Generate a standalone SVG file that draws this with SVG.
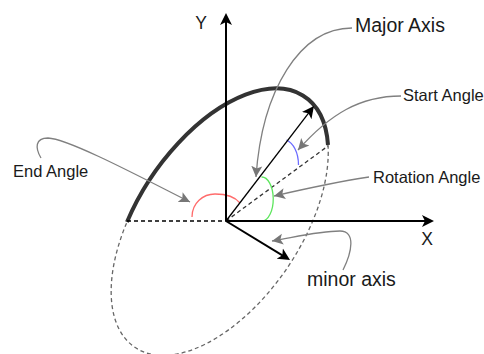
<svg xmlns="http://www.w3.org/2000/svg" width="484" height="354" viewBox="0 0 484 354">
<style>
.lbl{font-family:"Liberation Sans",Arial,sans-serif;fill:#1a1a1a}
.s{font-size:16.5px}
.b{font-size:19.5px}
.ax{font-size:17.5px}
.call{fill:none;stroke:#808080;stroke-width:1.3}
.dash{fill:none;stroke-dasharray:4 3;stroke-width:1.3}
</style>
<defs>
<marker id="ab" markerUnits="userSpaceOnUse" markerWidth="14" markerHeight="14" viewBox="0 -7 14 14" refX="4" refY="0" orient="auto">
<path d="M12,0 L0,-6 L3,0 L0,6 Z" fill="#000"/>
</marker>
<marker id="ag" markerUnits="userSpaceOnUse" markerWidth="14" markerHeight="14" viewBox="0 -7 14 14" refX="11" refY="0" orient="auto">
<path d="M11,0 L0,-5.5 L2.5,0 L0,5.5 Z" fill="#777"/>
</marker>
</defs>

<g id="ellipse">
<path class="dash" stroke="#666" d="M328,145 A151.4,81.7 -55.9 1 1 127,222"/>
<path d="M127,222 A151.4,81.7 -55.9 0 1 328,145" fill="none" stroke="#333" stroke-width="4"/>
</g>

<g id="guides">
<line class="dash" stroke="#000" x1="127" y1="221" x2="226" y2="221"/>
<line class="dash" stroke="#333" x1="226" y1="221" x2="328" y2="146"/>
</g>

<g id="angles" fill="none" stroke-width="1.3">
<path id="end-arc" stroke="#ff6b6b" d="M192,217 C192,203 203,194 215,194 C227,194 236,198 240,203"/>
<path id="rot-arc" stroke="#5ee65e" d="M261.5,177 A11.5,22 0 0 1 262,221"/>
<path id="start-arc" stroke="#6a6aff" d="M286.5,140 C293,143 298.5,152 298.5,165"/>
</g>

<g id="axes" stroke="#000" fill="none">
<line x1="226" y1="221" x2="426" y2="221" stroke-width="2" marker-end="url(#ab)"/>
<line x1="226" y1="221" x2="226" y2="21" stroke-width="2" marker-end="url(#ab)"/>
<line x1="226" y1="221" x2="309.1" y2="112.4" stroke-width="1.3" marker-end="url(#ab)"/>
<line x1="226" y1="221" x2="283.2" y2="255.8" stroke-width="2" marker-end="url(#ab)"/>
</g>

<g id="connectors">
<path class="call" d="M352,28 C300,28 262,90 256,177" marker-end="url(#ag)"/>
<path class="call" d="M401,96 C360,96 330,114 298,150" marker-end="url(#ag)"/>
<path class="call" d="M369,177 C330,183 300,190 274,196" marker-end="url(#ag)"/>
<path class="call" d="M41,158 C35,148 35,138 48,138 C70,139 150,182 190,202" marker-end="url(#ag)"/>
<path class="call" d="M343,270 C352,252 356,231 340,231 C320,231 300,236 272,241" marker-end="url(#ag)"/>
</g>

<g id="label-y"><text class="lbl ax" x="201" y="29" text-anchor="middle">Y</text></g>
<g id="label-x"><text class="lbl ax" x="427" y="245" text-anchor="middle">X</text></g>
<g id="label-major"><text class="lbl b" x="355" y="32">Major Axis</text></g>
<g id="label-start"><text class="lbl s" x="403" y="101">Start Angle</text></g>
<g id="label-rotation"><text class="lbl s" x="373" y="182.5">Rotation Angle</text></g>
<g id="label-end"><text class="lbl s" x="13" y="177">End Angle</text></g>
<g id="label-minor"><text class="lbl b" x="307" y="286">minor axis</text></g>
</svg>
